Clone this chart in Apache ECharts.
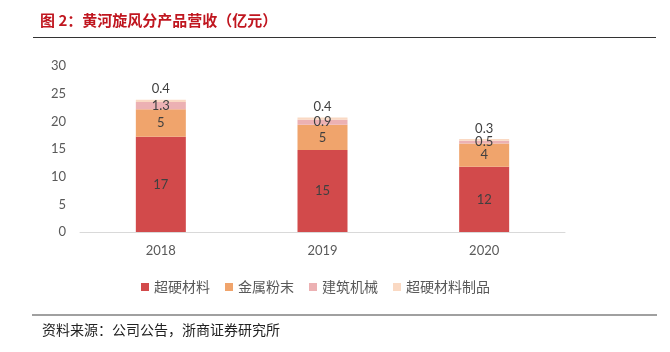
<!DOCTYPE html>
<html>
<head>
<meta charset="utf-8">
<script src="https://cdn.jsdelivr.net/npm/echarts@6/dist/echarts.min.js"></script>
<style>
html,body{margin:0;padding:0;background:#fff;}
#chart{width:670px;height:352px;}
</style>
</head>
<body>
<div id="chart"></div>
<script>
const categories = ['2018', '2019', '2020'];
const seriesNames = ['超硬材料', '金属粉末', '建筑机械', '超硬材料制品'];
const superhard = [17.2, 14.8, 11.8];
const metalPowder = [5.0, 4.6, 4.2];
const machinery = [1.3, 0.9, 0.5];
const products = [0.4, 0.4, 0.3];
const yTicks = [0, 5, 10, 15, 20, 25, 30];
const colors = ['#D24A4B', '#F0A46C', '#ECB1B3', '#FAD9C3'];

const labelFmt = function (p) {
  const v = p.value;
  return v >= 2 ? String(Math.round(v)) : v.toFixed(1);
};
const labelFont = { color: '#404040', fontSize: 13, fontFamily: 'Lato, "Liberation Sans", sans-serif' };

const chart = echarts.init(document.getElementById('chart'), null, { renderer: 'canvas' });
const datasets = [superhard, metalPowder, machinery, products];
const series = datasets.map(function (d, i) {
  return {
    name: seriesNames[i],
    type: 'bar',
    stack: 'total',
    barWidth: 50,
    data: d,
    itemStyle: { color: colors[i] },
    label: Object.assign({
      show: true,
      position: i === 3 ? 'top' : 'inside',
      distance: 4,
      formatter: labelFmt
    }, labelFont)
  };
});

chart.setOption({
  animation: false,
  backgroundColor: '#fff',
  grid: { left: 80, right: 105, top: 66, bottom: 120 },
  legend: {
    left: 136,
    top: 275,
    itemWidth: 8,
    itemHeight: 8,
    itemGap: 15,
    icon: 'rect',
    data: seriesNames,
    textStyle: { color: '#595959', fontSize: 14, fontFamily: '"Noto Sans CJK SC", sans-serif' }
  },
  xAxis: {
    type: 'category',
    data: categories,
    axisLine: { lineStyle: { color: '#D9D9D9', width: 1 } },
    axisTick: { show: false },
    axisLabel: { color: '#595959', fontSize: 13, margin: 12, fontFamily: 'Lato, "Liberation Sans", sans-serif' }
  },
  yAxis: {
    type: 'value',
    min: yTicks[0],
    max: yTicks[yTicks.length - 1],
    interval: yTicks[1] - yTicks[0],
    splitLine: { show: false },
    axisLine: { show: false },
    axisTick: { show: false },
    axisLabel: { color: '#595959', fontSize: 13, margin: 14, fontFamily: 'Lato, "Liberation Sans", sans-serif' }
  },
  series: series,
  graphic: [
    {
      type: 'text', left: 40, top: 13,
      style: { text: '图 2：黄河旋风分产品营收（亿元）', fill: '#C0161F', font: 'bold 15px "Noto Sans CJK SC", sans-serif' }
    },
    {
      type: 'line', shape: { x1: 33, y1: 37.5, x2: 656, y2: 37.5 },
      style: { stroke: '#333333', lineWidth: 1.2 }
    },
    {
      type: 'line', shape: { x1: 32, y1: 315, x2: 657, y2: 315 },
      style: { stroke: '#A0A0A0', lineWidth: 2 }
    },
    {
      type: 'text', left: 42, top: 323,
      style: { text: '资料来源：公司公告，浙商证券研究所', fill: '#222222', font: '14px "Noto Sans CJK SC", sans-serif' }
    }
  ]
});
</script>
</body>
</html>
